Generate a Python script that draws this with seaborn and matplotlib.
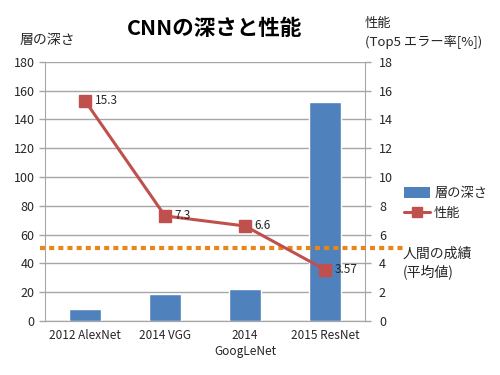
import matplotlib
matplotlib.use("Agg")
import matplotlib.pyplot as plt
import matplotlib.transforms as mtransforms
from matplotlib.patches import Patch
from matplotlib.lines import Line2D
import seaborn as sns
import pandas as pd

sns.set_style("white")
plt.rcParams['font.family'] = ['Noto Sans CJK JP', 'DejaVu Sans']

categories = ["2012 AlexNet", "2014 VGG", "2014\nGoogLeNet", "2015 ResNet"]
depth = [8, 19, 22, 152]
error = [15.3, 7.3, 6.6, 3.57]
error_labels = ["15.3", "7.3", "6.6", "3.57"]
human_error = 5.1
left_ticks = [0, 20, 40, 60, 80, 100, 120, 140, 160, 180]
right_ticks = [0, 2, 4, 6, 8, 10, 12, 14, 16, 18]

df = pd.DataFrame({"cat": categories, "depth": depth, "error": error})

bar_color = "#4F81BD"
line_color = "#C0504D"
human_color = "#E8861A"
grid_color = "#A6A6A6"

fig = plt.figure(figsize=(5, 3.75), dpi=100)
ax = fig.add_axes([0.09, 0.144, 0.64, 0.691])

sns.barplot(data=df, x="cat", y="depth", color=bar_color, width=0.4,
            saturation=1, ax=ax, zorder=2)
ax.set_ylim(0, 180)
ax.set_xlim(-0.5, 3.5)
ax.set_yticks(left_ticks)
ax.yaxis.grid(True, color=grid_color, linewidth=1, zorder=0)
ax.set_axisbelow(True)
ax.set_xlabel("")
ax.set_ylabel("")

ax2 = ax.twinx()
ax2.plot(range(len(categories)), error, color=line_color, linewidth=2.2,
         marker="s", markersize=8, zorder=5)
ax2.set_ylim(0, 18)
ax2.set_yticks(right_ticks)
ax2.set_ylabel("")

for i, (v, lab) in enumerate(zip(error, error_labels)):
    ax2.annotate(lab, (i, v), xytext=(7, 0), textcoords="offset points",
                 fontsize=8.5, va="center", ha="left", color="#262626", zorder=6)

# human performance line
trans = mtransforms.blended_transform_factory(ax2.transAxes, ax2.transData)
ax2.plot([-0.016, 1.125], [human_error, human_error], transform=trans,
         color=human_color, linewidth=3, linestyle=(0, (1.2, 1.0)),
         clip_on=False, zorder=4)

for a in (ax, ax2):
    a.spines["top"].set_visible(False)
    a.spines["left"].set_color(grid_color)
    a.spines["right"].set_color(grid_color)
    a.spines["bottom"].set_color(grid_color)
    a.tick_params(axis="y", labelsize=9, colors="#262626", length=4,
                  width=1, direction="out")
ax.tick_params(axis="y", color=grid_color)
ax2.tick_params(axis="y", color=grid_color, pad=6)
ax.set_xticks([0, 1, 2, 3])
ax.set_xticklabels(categories, fontsize=8.5, color="#262626", linespacing=1.3)
ax.tick_params(axis="x", length=0, pad=6)
ax.set_xticks([0.5, 1.5, 2.5], minor=True)
ax.tick_params(axis="x", which="minor", length=4, color=grid_color, direction="out")
ax2.spines["left"].set_visible(False)
ax.spines["right"].set_visible(False)

fig.text(0.43, 0.925, "CNNの深さと性能", fontsize=15.5, fontweight="bold",
         ha="center", va="center", color="black")
fig.text(0.04, 0.893, "層の深さ", fontsize=10, ha="left", va="center", color="#262626")
fig.text(0.73, 0.912, "性能\n(Top5 エラー率[%])", fontsize=9.5, ha="left",
         va="center", color="#262626", linespacing=1.5)

handles = [Patch(facecolor=bar_color, edgecolor="none"),
           Line2D([0], [0], color=line_color, linewidth=2.2, marker="s", markersize=7)]
fig.legend(handles, ["層の深さ", "性能"], loc="upper left",
           bbox_to_anchor=(0.797, 0.515), frameon=False, fontsize=9.5,
           handlelength=2.0, handleheight=0.9, labelspacing=0.5,
           handletextpad=0.3, borderaxespad=0)

fig.text(0.805, 0.3, "人間の成績\n(平均値)", fontsize=10, ha="left", va="center",
         color="#262626", linespacing=1.3)

fig.savefig("out.png", dpi=100)
